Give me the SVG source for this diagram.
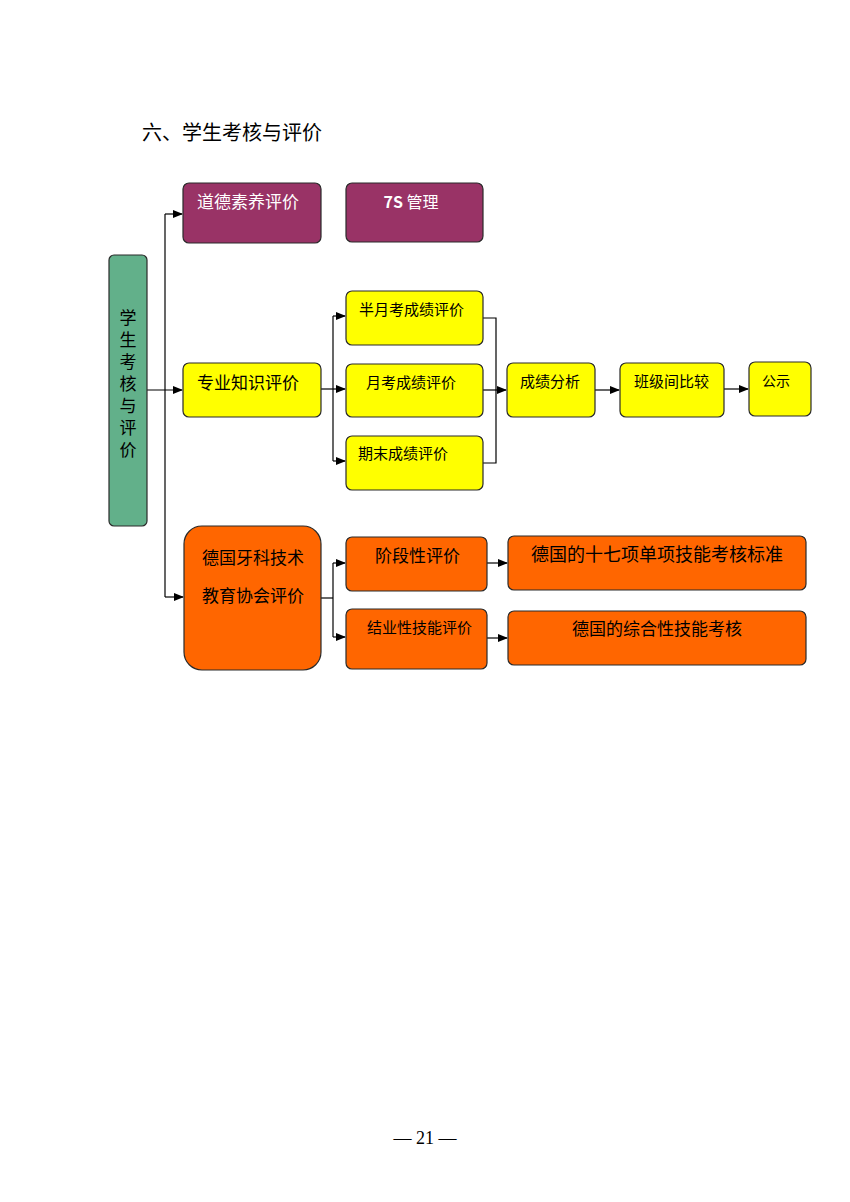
<svg xmlns="http://www.w3.org/2000/svg" width="850" height="1202" viewBox="0 0 850 1202">
<defs>
<marker id="ah" markerWidth="10" markerHeight="8" refX="9" refY="4" orient="auto" markerUnits="userSpaceOnUse">
<path d="M0,0 L10,4 L0,8 Z" fill="#000"/>
</marker>
<style>
.t{font-family:"Noto Sans CJK SC","Liberation Sans",sans-serif;fill:#000}
.w{fill:#fff}
.box{stroke:#2a2a2a;stroke-width:1.2}
.p{fill:#993366}
.y{fill:#ffff00}
.o{fill:#ff6600}
.g{fill:#62b08a}
.c{fill:none;stroke:#000;stroke-width:1.2}
</style>
</defs>
<rect width="850" height="1202" fill="#fff"/>
<text class="t" x="142" y="140" font-size="20">六、学生考核与评价</text>

<g id="connectors">
<path class="c" d="M147,390 H182" marker-end="url(#ah)"/>
<path class="c" d="M165,214 V597"/>
<path class="c" d="M165,214 H182" marker-end="url(#ah)"/>
<path class="c" d="M165,597 H183" marker-end="url(#ah)"/>
<path class="c" d="M321,389 H345" marker-end="url(#ah)"/>
<path class="c" d="M333,316 V461"/>
<path class="c" d="M333,316 H345" marker-end="url(#ah)"/>
<path class="c" d="M333,461 H345" marker-end="url(#ah)"/>
<path class="c" d="M483,318 H496 V463 H483"/>
<path class="c" d="M483,390 H506" marker-end="url(#ah)"/>
<path class="c" d="M595,390 H619" marker-end="url(#ah)"/>
<path class="c" d="M724,389 H748" marker-end="url(#ah)"/>
<path class="c" d="M321,598 H333"/>
<path class="c" d="M333,563 V637"/>
<path class="c" d="M333,563 H345" marker-end="url(#ah)"/>
<path class="c" d="M333,637 H345" marker-end="url(#ah)"/>
<path class="c" d="M487,563 H507" marker-end="url(#ah)"/>
<path class="c" d="M487,638 H507" marker-end="url(#ah)"/>
</g>

<g id="n_root">
<rect class="box g" x="109" y="255" width="38" height="271" rx="5"/>
<text class="t" font-size="17" x="128" y="309" style="writing-mode:vertical-rl;text-orientation:upright" letter-spacing="5">学生考核与评价</text>
</g>

<g id="n_moral">
<rect class="box p" x="183" y="183" width="138" height="60" rx="6"/>
<text class="t w" x="197" y="208" font-size="17">道德素养评价</text>
</g>
<g id="n_7s">
<rect class="box p" x="346" y="183" width="137" height="59" rx="6"/>
<text class="t w" x="411" y="208" font-size="16" text-anchor="middle"><tspan font-weight="bold">7S</tspan> 管理</text>
</g>

<g id="n_prof">
<rect class="box y" x="183" y="363" width="138" height="54" rx="6"/>
<text class="t" x="197" y="389" font-size="17">专业知识评价</text>
</g>
<g id="n_half">
<rect class="box y" x="346" y="291" width="137" height="54" rx="6"/>
<text class="t" x="359" y="315" font-size="15">半月考成绩评价</text>
</g>
<g id="n_month">
<rect class="box y" x="346" y="364" width="137" height="53" rx="6"/>
<text class="t" x="366" y="388" font-size="15">月考成绩评价</text>
</g>
<g id="n_final">
<rect class="box y" x="346" y="436" width="137" height="54" rx="6"/>
<text class="t" x="358" y="459" font-size="15">期末成绩评价</text>
</g>
<g id="n_anal">
<rect class="box y" x="507" y="363" width="88" height="54" rx="6"/>
<text class="t" x="520" y="387" font-size="15">成绩分析</text>
</g>
<g id="n_cmp">
<rect class="box y" x="620" y="363" width="104" height="54" rx="6"/>
<text class="t" x="634" y="387" font-size="15">班级间比较</text>
</g>
<g id="n_pub">
<rect class="box y" x="749" y="362" width="62" height="54" rx="6"/>
<text class="t" x="762" y="386" font-size="14">公示</text>
</g>

<g id="n_de">
<rect class="box o" x="184" y="526" width="137" height="144" rx="18"/>
<text class="t" x="202" y="564" font-size="17">德国牙科技术</text>
<text class="t" x="202" y="602" font-size="17">教育协会评价</text>
</g>
<g id="n_stage">
<rect class="box o" x="346" y="537" width="141" height="54" rx="6"/>
<text class="t" x="375" y="562" font-size="17">阶段性评价</text>
</g>
<g id="n_grad">
<rect class="box o" x="346" y="609" width="141" height="60" rx="6"/>
<text class="t" x="367" y="633" font-size="15">结业性技能评价</text>
</g>
<g id="n_17">
<rect class="box o" x="508" y="536" width="298" height="54" rx="6"/>
<text class="t" x="657" y="561" font-size="18" text-anchor="middle">德国的十七项单项技能考核标准</text>
</g>
<g id="n_comp">
<rect class="box o" x="508" y="611" width="298" height="54" rx="6"/>
<text class="t" x="657" y="635" font-size="17" text-anchor="middle">德国的综合性技能考核</text>
</g>

<text x="425" y="1144" font-size="18" text-anchor="middle" font-family="Liberation Serif,serif">— 21 —</text>
</svg>
